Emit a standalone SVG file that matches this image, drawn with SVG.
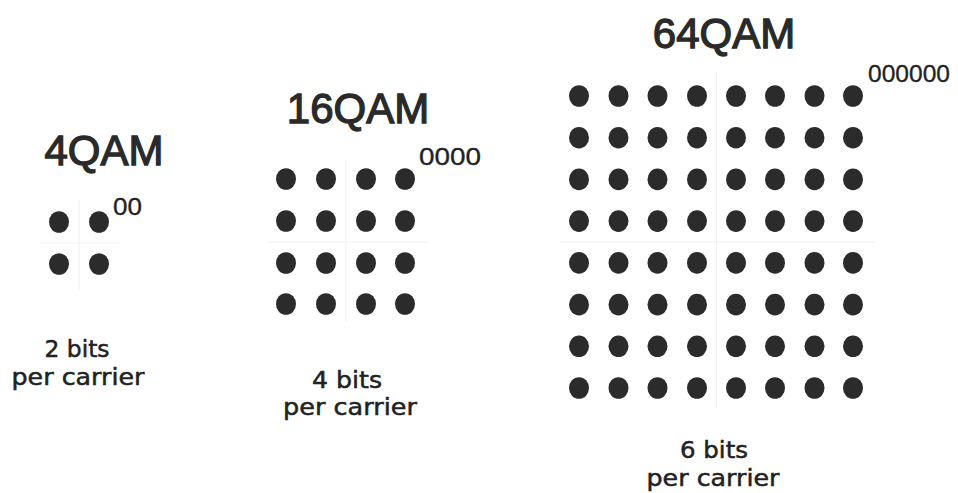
<svg xmlns="http://www.w3.org/2000/svg" xmlns:xlink="http://www.w3.org/1999/xlink" width="958" height="493" viewBox="0 0 958 493">
<style>
.title{font-family:"Liberation Sans",Arial,sans-serif;font-size:42px;fill:#2a2a2a;stroke:#2a2a2a;stroke-width:1.3;text-anchor:middle}
.code{font-family:"Liberation Sans",Arial,sans-serif;font-size:24px;fill:#222;stroke:#222;stroke-width:0.3}
.cap{font-family:"DejaVu Sans","Comic Sans MS",sans-serif;font-size:23px;fill:#222;text-anchor:middle;stroke:#222;stroke-width:0.5}
.axis{stroke:#f1f1f1;stroke-width:1.2;fill:none}
</style>
<defs>
<ellipse id="dot" cx="0" cy="0" rx="10" ry="10.8" fill="#2b2b2b"/>
</defs>
<rect width="958" height="493" fill="#ffffff"/>
<g id="axes">
<line class="axis" x1="79" y1="200" x2="79" y2="290"/>
<line class="axis" x1="40" y1="243" x2="120" y2="243"/>
<line class="axis" x1="346" y1="160" x2="346" y2="322"/>
<line class="axis" x1="268" y1="242" x2="428" y2="242"/>
<line class="axis" x1="716.5" y1="72" x2="716.5" y2="408"/>
<line class="axis" x1="560" y1="242" x2="875" y2="242"/>
</g>
<g id="qam4">
<text class="title" x="104" y="165">4QAM</text>
<use href="#dot" x="59" y="222"/>
<use href="#dot" x="99" y="222"/>
<use href="#dot" x="59" y="264"/>
<use href="#dot" x="99" y="264"/>
<text class="code" x="113" y="215" textLength="29" lengthAdjust="spacingAndGlyphs">00</text>
<text class="cap" x="77" y="357" textLength="65" lengthAdjust="spacingAndGlyphs">2 bits</text>
<text class="cap" x="78" y="385" textLength="133" lengthAdjust="spacingAndGlyphs">per carrier</text>
</g>
<g id="qam16">
<text class="title" x="358" y="123">16QAM</text>
<g>
<use href="#dot" x="286" y="179"/><use href="#dot" x="326" y="179"/><use href="#dot" x="366" y="179"/><use href="#dot" x="405" y="179"/>
<use href="#dot" x="286" y="221"/><use href="#dot" x="326" y="221"/><use href="#dot" x="366" y="221"/><use href="#dot" x="405" y="221"/>
<use href="#dot" x="286" y="263"/><use href="#dot" x="326" y="263"/><use href="#dot" x="366" y="263"/><use href="#dot" x="405" y="263"/>
<use href="#dot" x="286" y="304"/><use href="#dot" x="326" y="304"/><use href="#dot" x="366" y="304"/><use href="#dot" x="405" y="304"/>
</g>
<text class="code" x="419" y="165" textLength="62" lengthAdjust="spacingAndGlyphs">0000</text>
<text class="cap" x="347" y="388" textLength="70" lengthAdjust="spacingAndGlyphs">4 bits</text>
<text class="cap" x="350" y="415" textLength="134" lengthAdjust="spacingAndGlyphs">per carrier</text>
</g>
<g id="qam64">
<text class="title" x="724" y="48">64QAM</text>
<g>
<use href="#dot" x="579" y="96"/><use href="#dot" x="618.5" y="96"/><use href="#dot" x="657.5" y="96"/><use href="#dot" x="697" y="96"/><use href="#dot" x="736" y="96"/><use href="#dot" x="775" y="96"/><use href="#dot" x="814.5" y="96"/><use href="#dot" x="853" y="96"/>
<use href="#dot" x="579" y="137.7"/><use href="#dot" x="618.5" y="137.7"/><use href="#dot" x="657.5" y="137.7"/><use href="#dot" x="697" y="137.7"/><use href="#dot" x="736" y="137.7"/><use href="#dot" x="775" y="137.7"/><use href="#dot" x="814.5" y="137.7"/><use href="#dot" x="853" y="137.7"/>
<use href="#dot" x="579" y="179.4"/><use href="#dot" x="618.5" y="179.4"/><use href="#dot" x="657.5" y="179.4"/><use href="#dot" x="697" y="179.4"/><use href="#dot" x="736" y="179.4"/><use href="#dot" x="775" y="179.4"/><use href="#dot" x="814.5" y="179.4"/><use href="#dot" x="853" y="179.4"/>
<use href="#dot" x="579" y="221.1"/><use href="#dot" x="618.5" y="221.1"/><use href="#dot" x="657.5" y="221.1"/><use href="#dot" x="697" y="221.1"/><use href="#dot" x="736" y="221.1"/><use href="#dot" x="775" y="221.1"/><use href="#dot" x="814.5" y="221.1"/><use href="#dot" x="853" y="221.1"/>
<use href="#dot" x="579" y="262.9"/><use href="#dot" x="618.5" y="262.9"/><use href="#dot" x="657.5" y="262.9"/><use href="#dot" x="697" y="262.9"/><use href="#dot" x="736" y="262.9"/><use href="#dot" x="775" y="262.9"/><use href="#dot" x="814.5" y="262.9"/><use href="#dot" x="853" y="262.9"/>
<use href="#dot" x="579" y="304.6"/><use href="#dot" x="618.5" y="304.6"/><use href="#dot" x="657.5" y="304.6"/><use href="#dot" x="697" y="304.6"/><use href="#dot" x="736" y="304.6"/><use href="#dot" x="775" y="304.6"/><use href="#dot" x="814.5" y="304.6"/><use href="#dot" x="853" y="304.6"/>
<use href="#dot" x="579" y="346.3"/><use href="#dot" x="618.5" y="346.3"/><use href="#dot" x="657.5" y="346.3"/><use href="#dot" x="697" y="346.3"/><use href="#dot" x="736" y="346.3"/><use href="#dot" x="775" y="346.3"/><use href="#dot" x="814.5" y="346.3"/><use href="#dot" x="853" y="346.3"/>
<use href="#dot" x="579" y="388"/><use href="#dot" x="618.5" y="388"/><use href="#dot" x="657.5" y="388"/><use href="#dot" x="697" y="388"/><use href="#dot" x="736" y="388"/><use href="#dot" x="775" y="388"/><use href="#dot" x="814.5" y="388"/><use href="#dot" x="853" y="388"/>
</g>
<text class="code" x="868" y="82" textLength="82" lengthAdjust="spacingAndGlyphs">000000</text>
<text class="cap" x="714" y="458" textLength="68" lengthAdjust="spacingAndGlyphs">6 bits</text>
<text class="cap" x="713" y="486" textLength="133" lengthAdjust="spacingAndGlyphs">per carrier</text>
</g>
</svg>
